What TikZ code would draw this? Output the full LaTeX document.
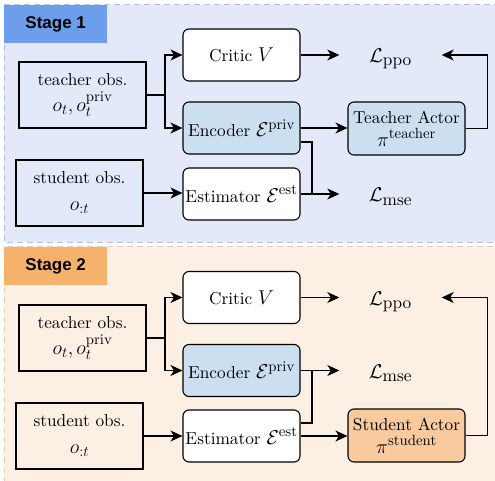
\documentclass[tikz,border=0pt]{standalone}
\usepackage{fix-cm}
\usepackage{amsmath}
\usepackage{fontspec}
\setmainfont{lmroman10-regular.otf}[BoldFont=lmroman10-bold.otf, ItalicFont=lmroman10-italic.otf]
\newfontfamily\stagefont{Liberation Sans}
\DeclareMathSizes{17.28}{20}{14.8}{10}
\usetikzlibrary{arrows.meta}
\definecolor{panelA}{RGB}{227,233,249}
\definecolor{panelAline}{RGB}{180,192,218}
\definecolor{stageA}{RGB}{109,158,235}
\definecolor{panelB}{RGB}{252,240,228}
\definecolor{panelBline}{RGB}{232,206,178}
\definecolor{stageB}{RGB}{246,178,107}
\definecolor{encfill}{RGB}{204,223,241}
\definecolor{stufill}{RGB}{248,202,158}
\newcommand\myfs{\fontsize{17.28}{20}\selectfont}
\newcommand\subfs{\fontsize{17.28}{17.28}\selectfont}
\tikzset{
  panel/.style={line width=1pt, dash pattern=on 6pt off 4pt},
  stagelbl/.style={draw=none, minimum width=103pt, minimum height=38pt, inner sep=0pt, anchor=north west,
    font=\stagefont\bfseries\fontsize{17}{17}\selectfont},
  obsbox/.style={draw, line width=1.1pt, minimum width=127pt, minimum height=66pt, align=center, inner sep=0pt, font=\myfs},
  rbox/.style={draw, line width=1.1pt, rounded corners=6pt, minimum width=117pt, minimum height=52pt, align=center, inner sep=0pt, fill=white, font=\myfs},
  loss/.style={minimum width=102pt, inner sep=0pt, anchor=base, font=\myfs},
  arr/.style={line width=1.1pt, -{Stealth[length=12pt,width=11pt,inset=3.5pt]}},
  ln/.style={line width=1.1pt}
}
\begin{document}
\begin{tikzpicture}[x=1pt,y=-1pt]
\useasboundingbox (0,0) rectangle (495,481);
\clip (0,0) rectangle (495,481);
% panels
\draw[panel, draw=panelAline, fill=panelA] (4,5) rectangle (510,242);
\draw[panel, draw=panelBline, fill=panelB] (4,246.5) rectangle (510,495);
\node[stagelbl, fill=stageA] (st1) at (4,5) {Stage 1};
\node[stagelbl, fill=stageB] (st2) at (4,247) {Stage 2};
% ---------- Stage 1 ----------
\node[obsbox] (tobs1) at (82.5,95) {teacher obs.\\[6pt] $o_t, o_t^{\text{priv}}$};
\node[obsbox] (sobs1) at (79.5,193) {student obs.\\[7pt] $o_{:t}$};
\node[rbox] (critic1) at (241.5,55) {Critic $V$};
\node[rbox, fill=encfill] (enc1) at (241.5,128) {Encoder $\mathcal{E}^{\text{priv}}$};
\node[rbox] (est1) at (241.5,194) {Estimator $\mathcal{E}^{\text{est}}$};
\node[rbox, fill=encfill, minimum height=53pt] (ta1) at (406.5,128.5) {Teacher Actor\\[3pt] $\pi^{\text{teacher}}$};
\node[loss] (lppo1) at (390.5,63) {$\mathcal{L}_{\hbox{\subfs ppo}}$};
\node[loss] (lmse1) at (390.5,202) {$\mathcal{L}_{\hbox{\subfs mse}}$};
\coordinate (j1) at (165,95);
\coordinate (m1) at (312,194);
\draw[ln] (tobs1.east) -- (j1);
\draw[arr] (j1) |- (critic1.west);
\draw[arr] (j1) |- (enc1.west);
\draw[arr] (sobs1.east) -- (sobs1.east -| est1.west);
\draw[arr] (critic1.east) -- (critic1.east -| lppo1.west);
\draw[arr] (enc1.east) -- (enc1.east -| ta1.west);
\draw[ln] ([yshift=-14pt]enc1.east) -| (m1);
\draw[arr] (est1.east) -- (est1.east -| lmse1.west);
\draw[arr] (ta1.east) -- ++(22,0) |- (critic1.east -| lppo1.east);
% ---------- Stage 2 ----------
\node[obsbox] (tobs2) at (82.5,338) {teacher obs.\\[6pt] $o_t, o_t^{\text{priv}}$};
\node[obsbox] (sobs2) at (79.5,436) {student obs.\\[7pt] $o_{:t}$};
\node[rbox] (critic2) at (241.5,297.5) {Critic $V$};
\node[rbox, fill=encfill] (enc2) at (241.5,370.5) {Encoder $\mathcal{E}^{\text{priv}}$};
\node[rbox] (est2) at (241.5,436) {Estimator $\mathcal{E}^{\text{est}}$};
\node[rbox, fill=stufill, minimum height=53pt] (sa2) at (406.5,435.5) {Student Actor\\[3pt] $\pi^{\text{student}}$};
\node[loss] (lppo2) at (390.5,305) {$\mathcal{L}_{\hbox{\subfs ppo}}$};
\node[loss] (lmse2) at (390.5,378) {$\mathcal{L}_{\hbox{\subfs mse}}$};
\coordinate (j2) at (165,338);
\coordinate (m2) at (312,370.5);
\draw[ln] (tobs2.east) -- (j2);
\draw[arr] (j2) |- (critic2.west);
\draw[arr] (j2) |- (enc2.west);
\draw[arr] (sobs2.east) -- (sobs2.east -| est2.west);
\draw[arr] (critic2.east) -- (critic2.east -| lppo2.west);
\draw[arr] (enc2.east) -- (enc2.east -| lmse2.west);
\draw[ln] ([yshift=13pt]est2.east) -| (m2);
\draw[arr] (est2.east) -- (est2.east -| sa2.west);
\draw[arr] (sa2.east) -- ++(22,0) |- (critic2.east -| lppo2.east);
\end{tikzpicture}
\end{document}
